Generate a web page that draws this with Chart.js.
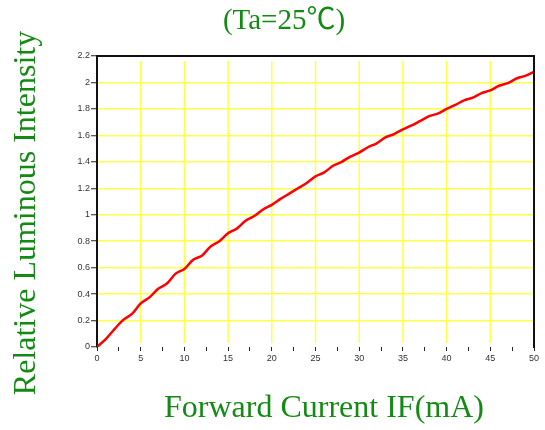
<!DOCTYPE html>
<html><head><meta charset="utf-8">
<script src="https://cdn.jsdelivr.net/npm/chart.js@4.4.1/dist/chart.umd.min.js"></script>
<style>html,body{margin:0;padding:0;background:#fff;overflow:hidden}</style>
</head><body>
<canvas id="c" width="545" height="430"></canvas>
<script>
const currents = [0,1,2,3,4,5,6,7,8,9,10,11,12,13,14,15,16,17,18,19,20,21,22,23,24,25,26,27,28,29,30,31,32,33,34,35,36,37,38,39,40,41,42,43,44,45,46,47,48,49,50];
const intensity = [0,0.06,0.135,0.205,0.25,0.33,0.375,0.44,0.48,0.555,0.59,0.66,0.69,0.76,0.8,0.86,0.895,0.955,0.99,1.04,1.075,1.12,1.16,1.2,1.24,1.29,1.32,1.37,1.4,1.44,1.47,1.51,1.54,1.585,1.61,1.645,1.675,1.71,1.745,1.765,1.8,1.83,1.865,1.885,1.92,1.94,1.975,1.995,2.03,2.05,2.08];
const yTicks = [0,0.2,0.4,0.6,0.8,1,1.2,1.4,1.6,1.8,2,2.2];
const xTicks = [0,2.5,5,7.5,10,12.5,15,17.5,20,22.5,25,27.5,30,32.5,35,37.5,40,42.5,45,47.5,50];
const xLabelTicks = [0,5,10,15,20,25,30,35,40,45,50];
const titleText = '(Ta=25\u2103)';
const xTitleText = 'Forward Current IF(mA)';
const yTitleText = 'Relative Luminous Intensity';

const GREEN = '#138a13';
const YELLOW = '#ffff4a';

const decor = {
  id: 'decor',
  beforeDatasetsDraw(chart) {
    const {ctx, chartArea: a, scales: {x}} = chart;
    ctx.save();
    ctx.strokeStyle = YELLOW;
    ctx.lineWidth = 1.5;
    xLabelTicks.forEach(v => {
      if (v === xLabelTicks[0] || v === xLabelTicks[xLabelTicks.length - 1]) return;
      const px = x.getPixelForValue(v);
      ctx.beginPath();
      ctx.moveTo(px, a.top + 5);
      ctx.lineTo(px, a.bottom - 4);
      ctx.stroke();
    });
    ctx.restore();
  },
  afterDatasetsDraw(chart) {
    const {ctx, chartArea: a} = chart;
    ctx.save();
    ctx.strokeStyle = '#111';
    ctx.lineWidth = 2;
    ctx.beginPath();
    ctx.moveTo(a.left, a.top);
    ctx.lineTo(a.right, a.top);
    ctx.lineTo(a.right, a.bottom + 1);
    ctx.stroke();
    ctx.restore();
  },
  afterDraw(chart) {
    const {ctx} = chart;
    ctx.save();
    ctx.fillStyle = GREEN;
    ctx.textAlign = 'center';
    ctx.textBaseline = 'middle';
    ctx.font = '29px "Liberation Serif", "Times New Roman", "Noto Sans CJK SC", serif';
    ctx.fillText(titleText, 284, 21);
    ctx.font = '32px "Liberation Serif", "Times New Roman", serif';
    ctx.fillText(xTitleText, 324, 409);
    ctx.translate(27, 213);
    ctx.rotate(-Math.PI / 2);
    ctx.fillText(yTitleText, 0, 0);
    ctx.restore();
  }
};

const tickFont = {family: '"Liberation Sans", Arial, sans-serif', size: 9};

new Chart(document.getElementById('c'), {
  type: 'line',
  data: {
    datasets: [{
      data: currents.map((c, i) => ({x: c, y: intensity[i]})),
      borderColor: '#ff0000',
      borderWidth: 2.5,
      pointRadius: 0,
      tension: 0.3,
      fill: false
    }]
  },
  options: {
    responsive: false,
    animation: false,
    devicePixelRatio: 1,
    layout: {padding: {left: 60, top: 56, right: 11, bottom: 63}},
    plugins: {legend: {display: false}, tooltip: {enabled: false}, title: {display: false}},
    scales: {
      x: {
        type: 'linear',
        min: 0, max: 50,
        afterBuildTicks: s => { s.ticks = xTicks.map(v => ({value: v})); },
        afterFit: s => { s.height = 20; },
        ticks: {
          autoSkip: false,
          maxRotation: 0,
          padding: 2,
          color: '#333',
          font: tickFont,
          callback: v => xLabelTicks.includes(v) ? String(v) : ''
        },
        grid: {drawOnChartArea: false, drawTicks: true, tickLength: 4, tickColor: '#222', tickWidth: 1},
        border: {display: false}
      },
      y: {
        min: 0, max: 2.2,
        afterBuildTicks: s => { s.ticks = yTicks.map(v => ({value: v})); },
        afterFit: s => { s.width = 37; },
        ticks: {
          autoSkip: false,
          padding: 1,
          color: '#333',
          font: tickFont,
          callback: v => String(Number(v.toFixed(1)))
        },
        grid: {
          color: c => (c.tick && c.tick.value === 0) ? 'rgba(0,0,0,0)' : YELLOW,
          lineWidth: 1.5,
          tickColor: '#222',
          tickLength: 6,
          tickWidth: 1
        },
        border: {display: true, color: '#111', width: 2}
      }
    }
  },
  plugins: [decor]
});
</script>
</body></html>
